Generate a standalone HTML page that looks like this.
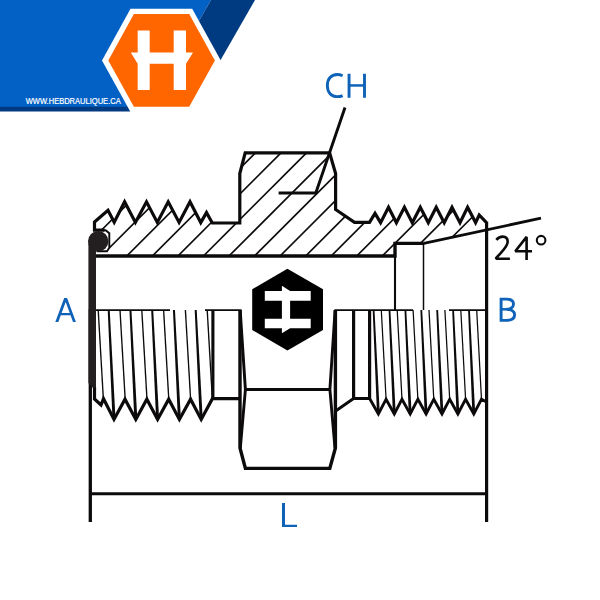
<!DOCTYPE html>
<html><head><meta charset="utf-8"><title>Fitting</title>
<style>html,body{margin:0;padding:0;background:#fff;font-family:"Liberation Sans",sans-serif}svg{display:block}</style></head>
<body>
<svg width="600" height="600" viewBox="0 0 600 600">
<rect width="600" height="600" fill="#fff"/>
<g id="banner">
<polygon points="0,0 211,0 149.2,107.2 0,107.2" fill="#0361c5"/>
<polygon points="0,106.8 128.4,106.8 131,111.6 0,111.6" fill="#003b82"/>
<polygon points="211,0 255,0 220.6,60 176.4,60" fill="#003b82"/>
<polygon points="102,60.4 130.5,8.8 192.2,8.8 220.8,60.4 192.2,112 130.5,112" fill="#fff"/>
<polygon points="108.3,60.4 133.9,13.9 189.2,13.9 214.9,60.4 189.2,106.8 133.9,106.8" fill="#ff6600"/>
<path d="M137.7,30.4H149.7V52.5H173.7V30.4H186V52.5H193L186,63.7V90H173.7V63.7H149.7V90H137.7V63.7L130.8,52.5H137.7Z" fill="#fff"/>
<text x="25.7" y="104.3" font-family="Liberation Sans, sans-serif" font-size="8.3" fill="#fff" stroke="#fff" stroke-width="0.2" textLength="95" lengthAdjust="spacingAndGlyphs">WWW.HEBDRAULIQUE.CA</text>
</g>
<defs><clipPath id="sec"><polygon points="94.5,222 108,210.3 114.2,222.2 124.6,201.8 135.4,222.4 146.5,201.8 157.3,222.4 168.2,201.8 179.1,222.4 190,201.8 200.75,222.6 206.5,212.6 212.3,223 239.8,223 239.8,173.5 245.2,152.8 329.6,152.8 335.6,173.5 335.6,209.5 354.5,222.4 369.5,222.4 375,213.4 380.6,222.7 388.5,207.2 396.4,222.7 404.4,207.2 412.3,222.7 420.3,207.2 428.3,222.7 436.2,207.2 444.2,222.7 452,207.2 460,222.7 467.6,207.2 475.6,222.6 479.2,215 486.25,222.3 486.25,229.8 423.75,243 395,243 395,256 109.7,256 109.7,230.2 94.5,230.2"/></clipPath></defs>
<g clip-path="url(#sec)" stroke="#0c0a0b" stroke-width="1.7" fill="none"><line x1="24.55" y1="256" x2="144.55" y2="136"/><line x1="50.1" y1="256" x2="170.1" y2="136"/><line x1="75.65" y1="256" x2="195.65" y2="136"/><line x1="101.2" y1="256" x2="221.2" y2="136"/><line x1="126.75" y1="256" x2="246.75" y2="136"/><line x1="152.3" y1="256" x2="272.3" y2="136"/><line x1="177.85" y1="256" x2="297.85" y2="136"/><line x1="203.4" y1="256" x2="323.4" y2="136"/><line x1="228.95" y1="256" x2="348.95" y2="136"/><line x1="254.5" y1="256" x2="374.5" y2="136"/><line x1="280.05" y1="256" x2="400.05" y2="136"/><line x1="305.6" y1="256" x2="425.6" y2="136"/><line x1="331.15" y1="256" x2="451.15" y2="136"/><line x1="356.7" y1="256" x2="476.7" y2="136"/><line x1="382.25" y1="256" x2="502.25" y2="136"/><line x1="407.8" y1="256" x2="527.8" y2="136"/><line x1="433.35" y1="256" x2="553.35" y2="136"/><line x1="458.9" y1="256" x2="578.9" y2="136"/><line x1="484.45" y1="256" x2="604.45" y2="136"/><line x1="510" y1="256" x2="630" y2="136"/></g>
<g stroke="#0c0a0b" fill="none" stroke-linejoin="miter" stroke-linecap="butt">
<polyline points="104.5,230.2 94.5,230.2 94.5,222 108,210.3 114.2,222.2 124.6,201.8 135.4,222.4 146.5,201.8 157.3,222.4 168.2,201.8 179.1,222.4 190,201.8 200.75,222.6 206.5,212.6 212.3,223 239.8,223 239.8,173.5 245.2,152.8 329.6,152.8 335.6,173.5 335.6,209.5 354.5,222.4 369.5,222.4 375,213.4 380.6,222.7 388.5,207.2 396.4,222.7 404.4,207.2 412.3,222.7 420.3,207.2 428.3,222.7 436.2,207.2 444.2,222.7 452,207.2 460,222.7 467.6,207.2 475.6,222.6 479.2,215 486.25,222.3" stroke-width="3.2"/>
<path d="M95,256H395V243.4H423.75" stroke-width="3.4"/>
<path d="M423.75,243.3L541,218.2" stroke-width="2.8"/>
<path d="M395,256V310" stroke-width="2.1"/>
<path d="M423.5,243V310" stroke-width="1.5"/>
<path d="M486.6,221.5V522" stroke-width="3.2"/>
<path d="M103,230.2H105.6L109.3,233.3V247.8L107,251.2H96.5" stroke-width="1.9"/>
<path d="M90.3,309V522" stroke-width="3.3"/>
<path d="M90,493.8H486.4" stroke-width="3.1"/>
<path d="M345,107.5L315.8,193H278.6" stroke-width="2.9"/>
<path d="M95.5,310.2H170M205,310.2H241.5" stroke-width="1.7"/>
<g stroke-width="1.35"><line x1="98.2" y1="310" x2="103.4" y2="399.5"/><line x1="120" y1="310" x2="125.2" y2="399.5"/><line x1="141.8" y1="310" x2="147" y2="399.5"/><line x1="163.6" y1="310" x2="168.8" y2="399.5"/><line x1="185.4" y1="310" x2="190.6" y2="399.5"/><line x1="207.2" y1="310" x2="212.4" y2="399.5"/></g>
<g stroke="none" fill="#0c0a0b"><polygon points="107.7,310 109.7,310 115.5,419 112.5,419"/><polygon points="129.45,310 131.45,310 137.3,419 134.3,419"/><polygon points="151.2,310 153.2,310 159.1,419 156.1,419"/><polygon points="172.95,310 174.95,310 180.9,419 177.9,419"/><polygon points="194.7,310 196.7,310 202.7,419 199.7,419"/></g>
<polyline points="94.5,387 94.5,399 101,405 103.5,398.7 114,419.4 125,399.2 135.8,419.4 146.85,399.2 157.6,419.4 168.7,399.2 179.4,419.4 190.55,399.2 201.2,419.4 212.4,398.7 239.6,398.7" stroke-width="3.2"/>
<path d="M212.9,310V398.7" stroke-width="3.1"/>
<path d="M240,310V448L245.4,468.4H329.8L335.4,448V310" stroke-width="3.4"/>
<path d="M245.4,389.55H329.8" stroke-width="3.1"/>
<path d="M240.2,310.3L245.4,389.6L240.3,448M335.1,310.3L329.9,389.6L335,448" stroke-width="2.9"/>
<path d="M334.4,310.1H413M449,310.1H486" stroke-width="1.7"/>
<path d="M353.6,310V398.5M369.6,310V398.5" stroke-width="3.2"/>
<polyline points="335.6,411 353.6,398.5 369.6,398.5 378.4,414 386.1,399.2 394.3,414 402,399.2 410.2,414 417.9,399.2 426.1,414 433.8,399.2 442,414 449.7,399.2 457.9,414 465.6,399.2 473.8,414 481.5,399.2 485.6,401.5" stroke-width="2.9"/>
<g stroke="none" fill="#0c0a0b"><polygon points="372.7,310 374.5,310 379.8,414 377,414"/><polygon points="388.6,310 390.4,310 395.7,414 392.9,414"/><polygon points="404.5,310 406.3,310 411.6,414 408.8,414"/><polygon points="420.4,310 422.2,310 427.5,414 424.7,414"/><polygon points="436.3,310 438.1,310 443.4,414 440.6,414"/><polygon points="452.2,310 454,310 459.3,414 456.5,414"/><polygon points="468.1,310 469.9,310 475.2,414 472.4,414"/></g>
<g stroke-width="1.25"><line x1="381.3" y1="310" x2="386.1" y2="399.5"/><line x1="397.2" y1="310" x2="402" y2="399.5"/><line x1="413.1" y1="310" x2="417.9" y2="399.5"/><line x1="429" y1="310" x2="433.8" y2="399.5"/><line x1="444.9" y1="310" x2="449.7" y2="399.5"/><line x1="460.8" y1="310" x2="465.6" y2="399.5"/><line x1="476.7" y1="310" x2="481.5" y2="399.5"/></g>
</g>
<path d="M88.4,243H96V387.5L91.8,387.5L88.4,383Z" fill="#231f20"/>
<circle cx="98.2" cy="241.3" r="10.2" fill="#231f20"/>
<polygon points="287.4,268.8 323,289.3 323,330 287.4,350.6 252.2,330 252.2,289.3" fill="#000"/>
<path d="M264.8,291H281.9V285.7L290.1,291H310.7V300.8H290.1V318.7H310.7V328.2H290.1L281.9,333.3V328.2H264.8V318.7H281.9V300.8H264.8Z" fill="#fff"/>
<g fill="none" stroke="#0e62b7" stroke-width="2.9" stroke-linejoin="miter">
<path d="M342.6,75.7C340.9,74.9 339,74.45 337.2,74.45C331.2,74.45 327.35,79 327.35,85.6C327.35,92.4 331.4,96.65 337,96.65C339.2,96.65 341.2,96.3 342.6,95.6"/>
<path d="M349.05,73.7V97.8M364.5,73.7V97.8"/><path d="M349,85.45H364.5" stroke-width="2.5"/>
<path d="M501.1,299.1H506.3C510.8,299.1 513.5,300.9 513.5,304.1C513.5,307.3 510.6,309.3 506.6,309.3C511.3,309.3 514.6,311.3 514.6,314.8C514.6,318.7 511.2,320.4 506.4,320.4H501.1Z"/><path d="M501.1,309.3H507" stroke-width="2.5"/>
</g>
<path d="M55.3,321.9L64.2,297.9H67.1L75.9,321.9H73L70.54,315.2H60.8L58.3,321.9ZM61.6,313L65.7,302L69.73,313Z" fill="#0e62b7" fill-rule="evenodd"/>
<path d="M282,503H285V524.7H297V527.1H282Z" fill="#0e62b7"/>
<g fill="none" stroke="#0c0a0b" stroke-width="2.6" stroke-linejoin="bevel">
<path d="M496.3,239.8C498,237.8 500.3,236.6 502.7,236.6C506,236.6 507.7,238.9 507.7,241.8C507.7,245.3 505.2,248.3 500.5,253.3L496.2,257.9V258.7H509.9"/>
<path d="M526.6,260V236.9L515.3,251.3H532"/>
<circle cx="541.1" cy="240.2" r="4.3" stroke-width="2.1"/>
</g>
</svg>
</body></html>
